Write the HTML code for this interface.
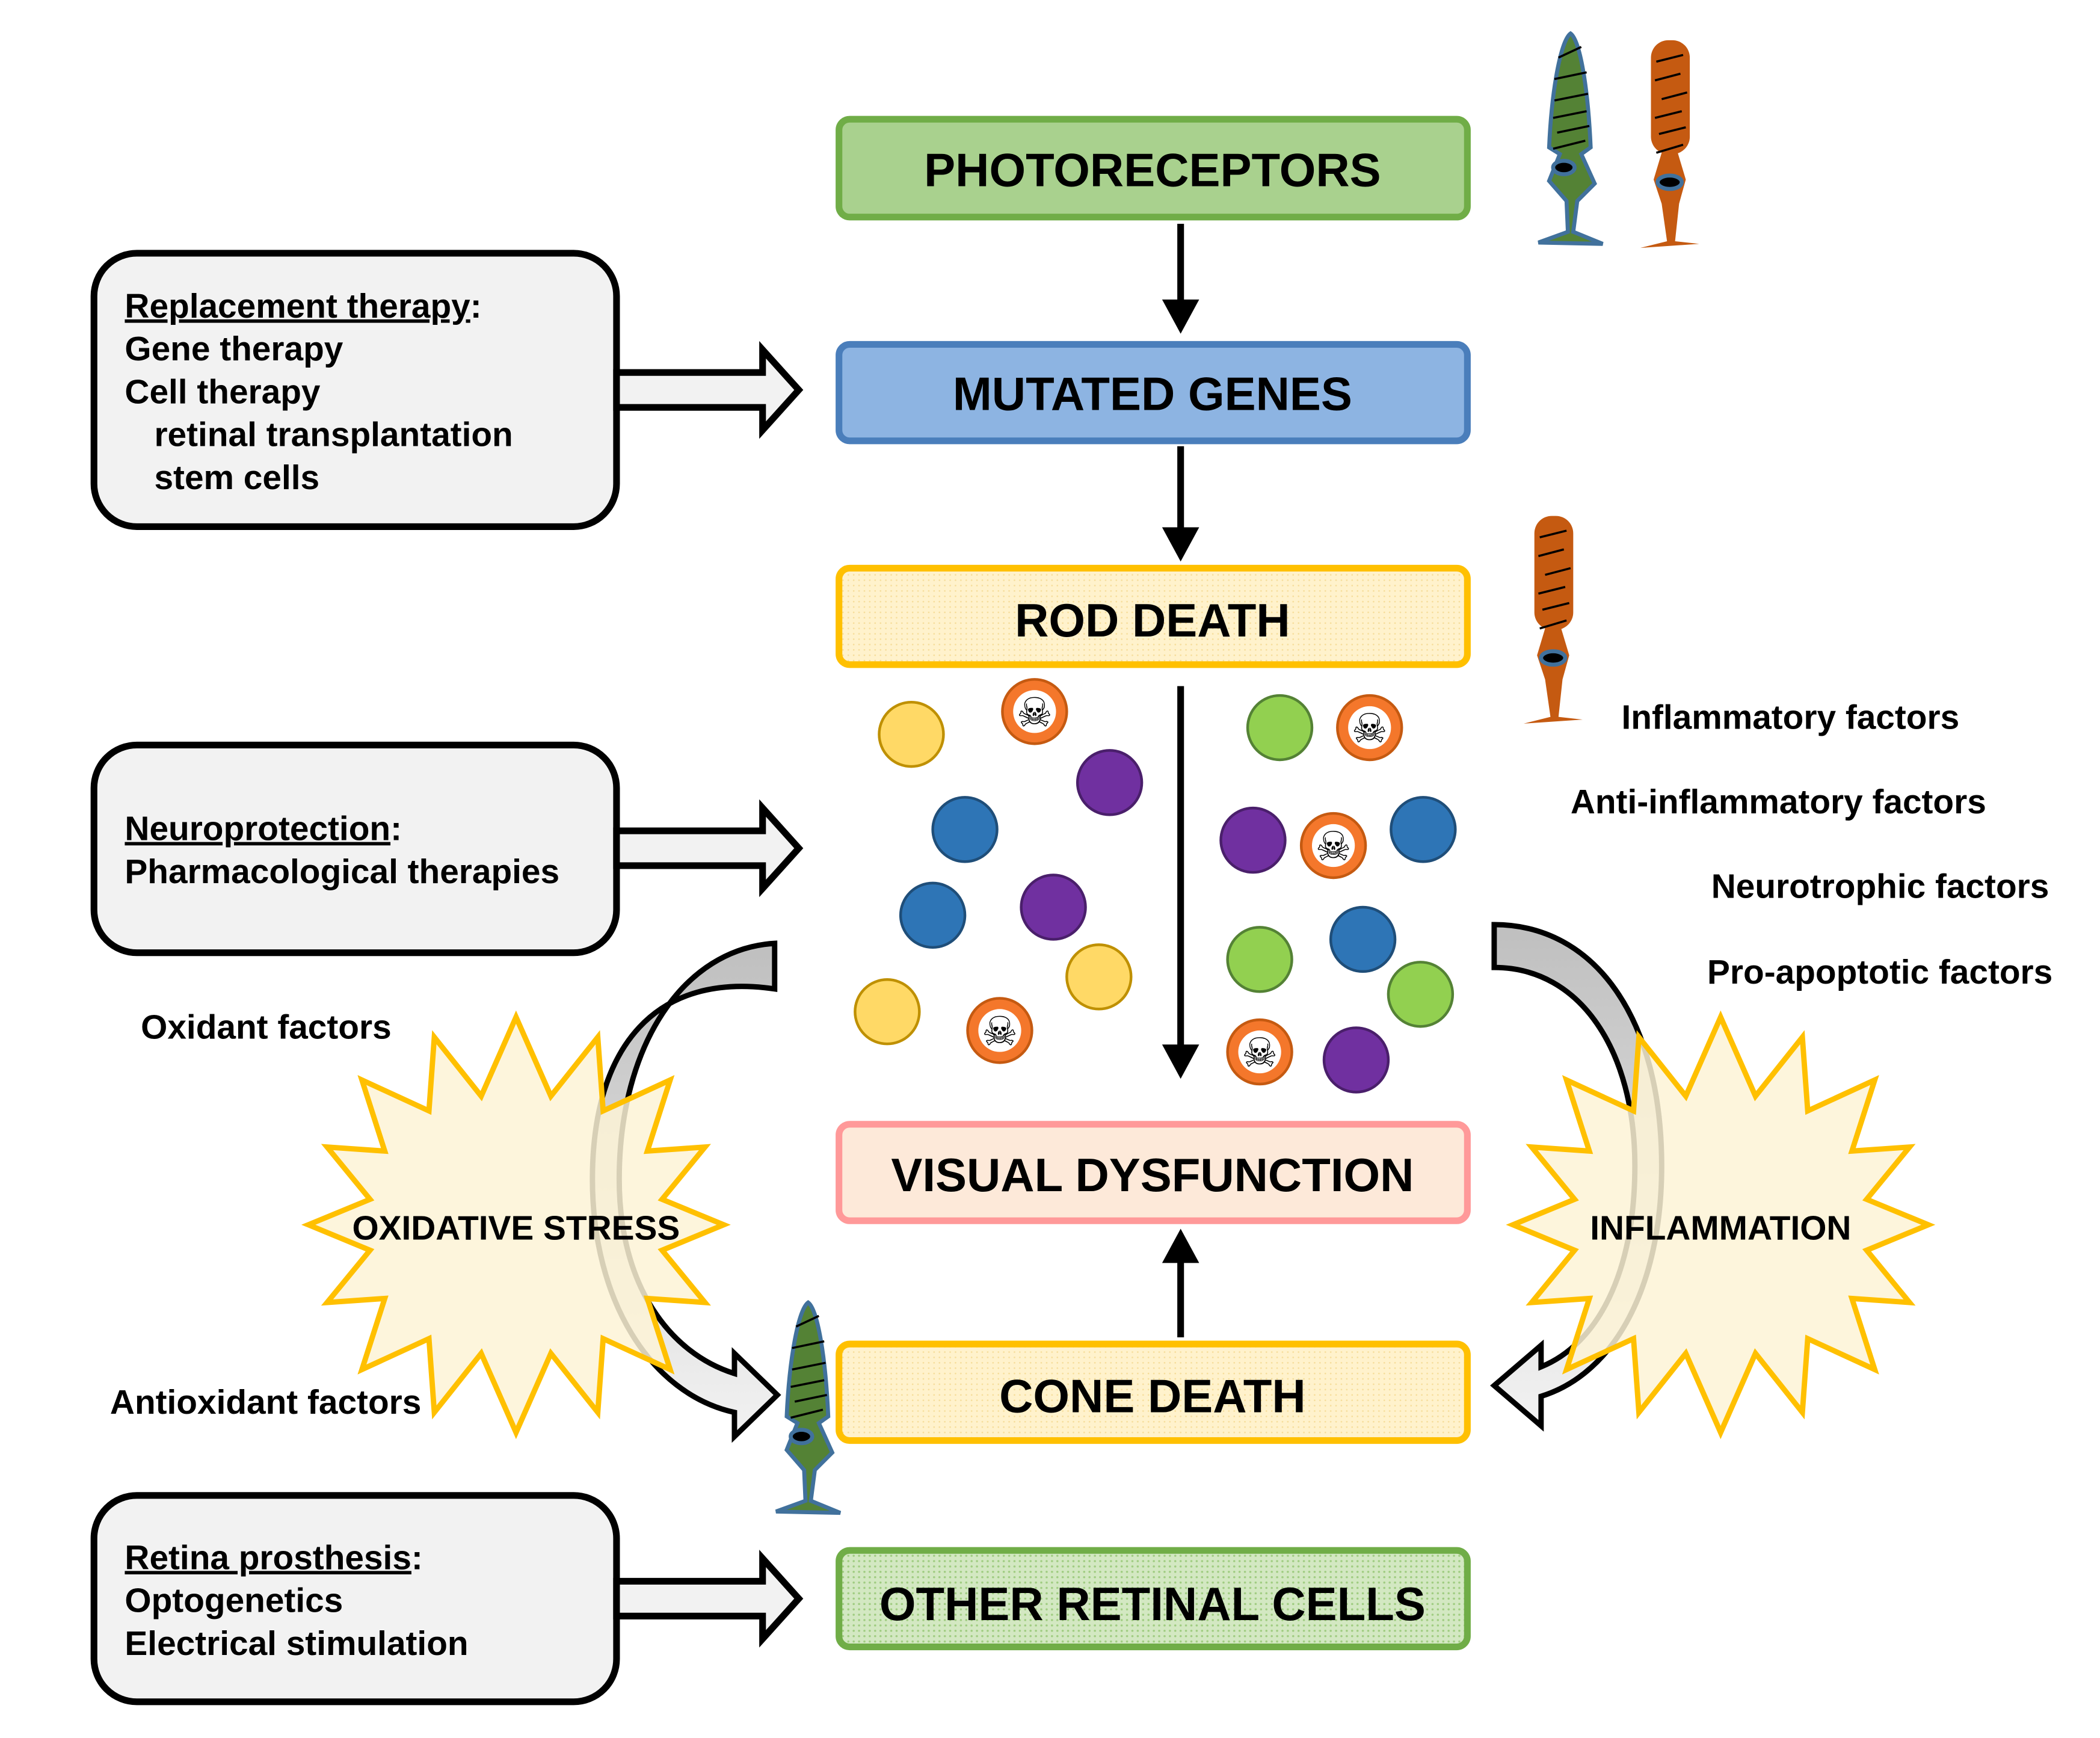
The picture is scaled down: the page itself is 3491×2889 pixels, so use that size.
<!DOCTYPE html>
<html><head><meta charset="utf-8"><style>
html,body{margin:0;padding:0;background:#fff;}
svg{display:block;}
text{font-family:"Liberation Sans","DejaVu Sans",sans-serif;font-weight:bold;fill:#000;}
</style></head><body>
<svg width="3491" height="2889" viewBox="0 0 1567 1297" xmlns="http://www.w3.org/2000/svg">
<defs>
<pattern id="dots" width="4" height="4" patternUnits="userSpaceOnUse"><rect width="4" height="4" fill="#fff2cc"/><circle cx="1" cy="1" r="0.6" fill="#f6dd9a"/></pattern>
<pattern id="gdots" width="4" height="4" patternUnits="userSpaceOnUse"><rect width="4" height="4" fill="#d3e8c2"/><circle cx="1" cy="1" r="0.8" fill="#9fcc80"/></pattern>
<linearGradient id="gl" x1="0" y1="0" x2="0" y2="1"><stop offset="0" stop-color="#bfbfbf"/><stop offset="1" stop-color="#f2f2f2"/></linearGradient>
<g id="cone">
<path d="M0,0 C7,5 13,40 15,85 L8,90 L18,112 L5,125 L2,148 L24,157 L-24,156 L-2,148 L-3,125 L-16,110 L-8,90 L-16,85 C-14,40 -7,5 0,0 Z" fill="#548235" stroke="#41719c" stroke-width="3"/>
<g stroke="#000" stroke-width="1.6"><line x1="-9" y1="18" x2="8" y2="10"/><line x1="-12" y1="34" x2="12" y2="29"/><line x1="-12" y1="50" x2="13" y2="45"/><line x1="-13" y1="63" x2="12" y2="58"/><line x1="-10" y1="74" x2="14" y2="69"/><line x1="-13" y1="86" x2="11" y2="80"/></g>
<ellipse cx="-5" cy="100" rx="8" ry="5" fill="#000" stroke="#41719c" stroke-width="3"/>
</g>
<g id="rod">
<rect x="-14" y="0" width="29" height="85" rx="13" fill="#c55a11"/>
<path d="M-6,84 L6,84 L12,104 L7,122 L4,150 L22,152 L-22,155 L-2,150 L-6,122 L-12,104 Z" fill="#c55a11"/>
<g stroke="#000" stroke-width="1.6"><line x1="-10" y1="16" x2="10" y2="11"/><line x1="-11" y1="30" x2="8" y2="25"/><line x1="-6" y1="44" x2="13" y2="39"/><line x1="-11" y1="58" x2="9" y2="53"/><line x1="-8" y1="70" x2="12" y2="65"/><line x1="-10" y1="84" x2="10" y2="78"/></g>
<ellipse cx="0" cy="106" rx="9" ry="5" fill="#000" stroke="#41719c" stroke-width="3"/>
</g>
<g id="skull"><circle r="24" fill="#f4772b" stroke="#c55a11" stroke-width="2"/><circle r="16" fill="#fff"/><text x="0" y="11" text-anchor="middle" font-size="30" style="font-family:'DejaVu Sans',sans-serif;font-weight:normal">☠</text></g>
</defs>

<!-- main boxes -->
<rect x="626" y="89" width="469" height="73" rx="8" fill="#a9d18e" stroke="#70ad47" stroke-width="5"/>
<text x="860" y="139" text-anchor="middle" font-size="35">PHOTORECEPTORS</text>
<rect x="626" y="257" width="469" height="72" rx="8" fill="#8db4e2" stroke="#4a7ebb" stroke-width="5"/>
<text x="860" y="306" text-anchor="middle" font-size="35">MUTATED GENES</text>
<rect x="626" y="424" width="469" height="72" rx="8" fill="url(#dots)" stroke="#ffc000" stroke-width="5"/>
<text x="860" y="475" text-anchor="middle" font-size="35">ROD DEATH</text>
<rect x="626" y="839" width="469" height="72" rx="8" fill="#fde9d9" stroke="#ff9999" stroke-width="5"/>
<text x="860" y="889" text-anchor="middle" font-size="35">VISUAL DYSFUNCTION</text>
<rect x="626" y="1003" width="469" height="72" rx="8" fill="url(#dots)" stroke="#ffc000" stroke-width="5"/>
<text x="860" y="1054" text-anchor="middle" font-size="35">CONE DEATH</text>
<rect x="626" y="1157" width="469" height="72" rx="8" fill="url(#gdots)" stroke="#70ad47" stroke-width="5"/>
<text x="860" y="1209" text-anchor="middle" font-size="35">OTHER RETINAL CELLS</text>

<!-- vertical arrows -->
<g fill="#000" stroke="#000">
<line x1="881" y1="167" x2="881" y2="228" stroke-width="5"/><polygon points="868,224 894,224 881,248"/>
<line x1="881" y1="333" x2="881" y2="398" stroke-width="5"/><polygon points="868,394 894,394 881,418"/>
<line x1="881" y1="512" x2="881" y2="784" stroke-width="5"/><polygon points="868,780 894,780 881,804"/>
<line x1="881" y1="998" x2="881" y2="938" stroke-width="5"/><polygon points="868,942 894,942 881,918"/>
</g>

<!-- left boxes -->
<g stroke="#000" stroke-width="5" fill="#f2f2f2">
<rect x="70" y="189" width="390" height="204" rx="32"/>
<rect x="70" y="556" width="390" height="155" rx="32"/>
<rect x="70" y="1116" width="390" height="154" rx="32"/>
</g>
<g stroke="#000" stroke-width="5" fill="#f2f2f2" stroke-linejoin="miter">
<polygon points="460,278 569,278 569,261 596,291 569,321 569,304 460,304"/>
<polygon points="460,620 569,620 569,603 596,633 569,663 569,646 460,646"/>
<polygon points="460,1180 569,1180 569,1163 596,1193 569,1223 569,1206 460,1206"/>
</g>
<g font-size="25.5">
<text x="93" y="237"><tspan text-decoration="underline">Replacement therapy</tspan>:</text>
<text x="93" y="269">Gene therapy</text>
<text x="93" y="301">Cell therapy</text>
<text x="115" y="333">retinal transplantation</text>
<text x="115" y="365">stem cells</text>
<text x="93" y="627"><tspan text-decoration="underline">Neuroprotection</tspan>:</text>
<text x="93" y="659">Pharmacological therapies</text>
<text x="93" y="1171"><tspan text-decoration="underline">Retina prosthesis</tspan>:</text>
<text x="93" y="1203">Optogenetics</text>
<text x="93" y="1235">Electrical stimulation</text>
<text x="105" y="775">Oxidant factors</text>
<text x="82" y="1055">Antioxidant factors</text>
<text x="1210" y="544">Inflammatory factors</text>
<text x="1172" y="607">Anti-inflammatory factors</text>
<text x="1277" y="670">Neurotrophic factors</text>
<text x="1274" y="734">Pro-apoptotic factors</text>
</g>

<!-- circles -->
<g stroke-width="2">
<circle cx="680" cy="548" r="24" fill="#ffd966" stroke="#bf9000"/>
<circle cx="662" cy="755" r="24" fill="#ffd966" stroke="#bf9000"/>
<circle cx="820" cy="729" r="24" fill="#ffd966" stroke="#bf9000"/>
<circle cx="828" cy="584" r="24" fill="#7030a0" stroke="#4a1f6b"/>
<circle cx="786" cy="677" r="24" fill="#7030a0" stroke="#4a1f6b"/>
<circle cx="935" cy="627" r="24" fill="#7030a0" stroke="#4a1f6b"/>
<circle cx="1012" cy="791" r="24" fill="#7030a0" stroke="#4a1f6b"/>
<circle cx="720" cy="619" r="24" fill="#2e75b6" stroke="#1f4e79"/>
<circle cx="696" cy="683" r="24" fill="#2e75b6" stroke="#1f4e79"/>
<circle cx="1062" cy="619" r="24" fill="#2e75b6" stroke="#1f4e79"/>
<circle cx="1017" cy="701" r="24" fill="#2e75b6" stroke="#1f4e79"/>
<circle cx="955" cy="543" r="24" fill="#92d050" stroke="#548235"/>
<circle cx="940" cy="716" r="24" fill="#92d050" stroke="#548235"/>
<circle cx="1060" cy="742" r="24" fill="#92d050" stroke="#548235"/>
</g>
<use href="#skull" x="772" y="531"/>
<use href="#skull" x="746" y="769"/>
<use href="#skull" x="1022" y="543"/>
<use href="#skull" x="995" y="631"/>
<use href="#skull" x="940" y="785"/>

<!-- curved arrows -->
<path d="M578,704 C510,708 462,780 462,880 C462,960 500,1010 548,1025 L548,1010 L580,1041 L548,1072 L548,1054 C485,1040 442,970 442,880 C442,780 490,725 578,738 Z" fill="url(#gl)" stroke="#000" stroke-width="4"/>
<path d="M1115,690 C1190,690 1240,760 1240,870 C1240,960 1205,1025 1150,1042 L1150,1064 L1115,1034 L1150,1004 L1150,1020 C1192,1003 1220,950 1220,870 C1220,785 1180,722 1115,722 Z" fill="url(#gl)" stroke="#000" stroke-width="4"/>

<!-- starbursts -->
<polygon fill="#fdf3d6" fill-opacity="0.85" stroke="#ffc000" stroke-width="4" points="385,759 411,818 446,774 450,829 500,806 483,859 526,856 494,895 540,914 494,933 526,972 483,969 500,1022 450,999 446,1054 411,1010 385,1069 359,1010 324,1054 320,999 270,1022 287,969 244,972 276,933 230,914 276,895 244,856 287,859 270,806 320,829 324,774 359,818"/>
<polygon fill="#fdf3d6" fill-opacity="0.85" stroke="#ffc000" stroke-width="4" points="1284,759 1310,818 1345,774 1349,829 1399,806 1382,859 1425,856 1393,895 1439,914 1393,933 1425,972 1382,969 1399,1022 1349,999 1345,1054 1310,1010 1284,1069 1258,1010 1223,1054 1219,999 1169,1022 1186,969 1143,972 1175,933 1129,914 1175,895 1143,856 1186,859 1169,806 1219,829 1223,774 1258,818"/>

<text x="385" y="925" text-anchor="middle" font-size="25.5">OXIDATIVE STRESS</text>
<text x="1284" y="925" text-anchor="middle" font-size="25.5">INFLAMMATION</text>

<!-- cells -->
<use href="#cone" x="1172" y="25"/>
<use href="#rod" x="1246" y="30"/>
<use href="#rod" x="1159" y="385"/>
<use href="#cone" x="603" y="972"/>
</svg>
</body></html>
